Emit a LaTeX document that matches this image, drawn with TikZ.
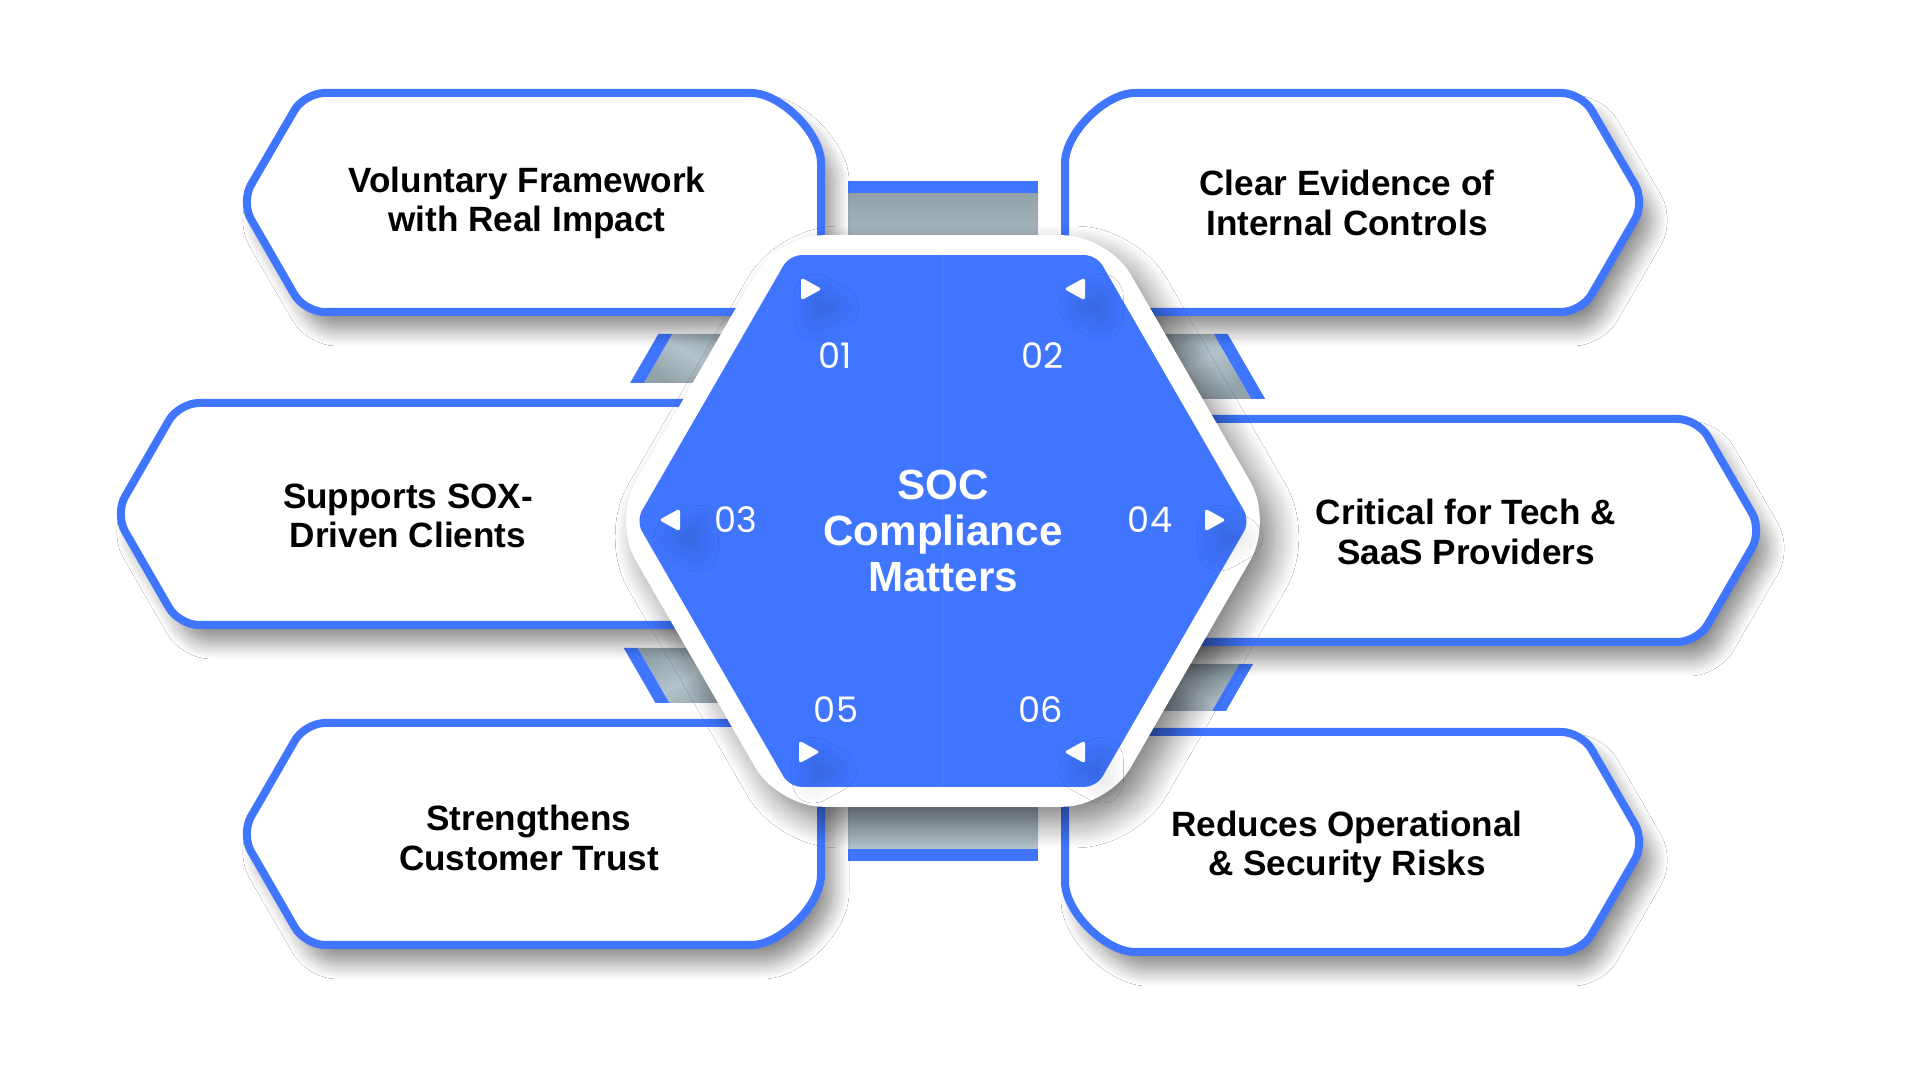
\documentclass[tikz,border=0pt]{standalone}
\usepackage{fontspec}
\setmainfont{Liberation Sans}
\newfontfamily\numfont{Poppins}
\usetikzlibrary{shadows.blur}

\definecolor{socblue}{RGB}{63,117,255}
\definecolor{bandgray}{RGB}{146,162,169}
\definecolor{bandlight}{RGB}{180,195,202}

\begin{document}
\begin{tikzpicture}[
    infobox/.style={draw=socblue, line width=0.08cm, fill=white, rounded corners=0.2cm,
        blur shadow={shadow xshift=0.12cm, shadow yshift=-0.18cm, shadow blur radius=0.16cm,
        shadow blur steps=14, shadow opacity=45}},
    boxtext/.style={font=\bfseries\fontsize{10pt}{11.2pt}\selectfont, align=center},
    title/.style={font=\bfseries\fontsize{12pt}{13pt}\selectfont, text=white, align=center},
    num/.style={font=\numfont\fontsize{10pt}{12pt}\selectfont, text=white},
    marker/.style={fill=white, rounded corners=0.03cm,
        blur shadow={shadow xshift=0.12cm, shadow yshift=-0.14cm, shadow blur radius=0.15cm,
        shadow scale=1.3, shadow blur steps=10, shadow opacity=15}},
    band/.style={top color=bandgray, bottom color=bandlight},
    bandslant/.style={left color=bandgray, right color=bandgray, middle color=bandlight}
]
    \useasboundingbox (0,0) rectangle (19.2,10.8);
    \fill[white] (0,0) rectangle (19.2,10.8);

    % Connector bands behind the boxes
    \shade[band] (8.48,8.87) rectangle (10.38,8.2);
    \fill[socblue] (8.48,8.87) rectangle (10.38,8.99);
    \shade[band] (8.48,3.0) rectangle (10.38,2.31);
    \fill[socblue] (8.48,2.19) rectangle (10.38,2.31);
    \shade[bandslant, shading angle=-30] (6.722,7.46) -- (7.507,7.46) -- (7.224,6.97) -- (6.439,6.97) -- cycle;
    \fill[socblue] (6.584,7.46) -- (6.722,7.46) -- (6.439,6.97) -- (6.301,6.97) -- cycle;
    \shade[bandslant, shading angle=30] (11.353,7.46) -- (12.138,7.46) -- (12.513,6.81) -- (11.728,6.81) -- cycle;
    \fill[socblue] (12.138,7.46) -- (12.276,7.46) -- (12.652,6.81) -- (12.513,6.81) -- cycle;
    \shade[bandslant, shading angle=30] (6.376,4.32) -- (7.161,4.32) -- (7.478,3.77) -- (6.693,3.77) -- cycle;
    \fill[socblue] (6.237,4.32) -- (6.376,4.32) -- (6.693,3.77) -- (6.555,3.77) -- cycle;
    \shade[bandslant, shading angle=-30] (11.607,4.16) -- (12.392,4.16) -- (12.121,3.69) -- (11.335,3.69) -- cycle;
    \fill[socblue] (12.392,4.16) -- (12.530,4.16) -- (12.259,3.69) -- (12.121,3.69) -- cycle;

    % Left boxes
    \draw[infobox] (3.045,7.68) -- (2.41,8.78) -- (3.045,9.87) -- (7.31,9.87)
        arc[start angle=90, end angle=0, radius=0.9] -- (8.21,7.68) -- cycle;
    \draw[infobox] (1.79,4.55) -- (1.15,5.66) -- (1.79,6.77) -- (7.6,6.77) -- (7.6,4.55) -- cycle;
    \draw[infobox] (3.05,1.35) -- (2.41,2.46) -- (3.05,3.57) -- (8.21,3.57) -- (8.21,2.25)
        arc[start angle=0, end angle=-90, radius=0.9] -- cycle;

    % Right boxes
    \draw[infobox] (10.65,7.68) -- (10.65,8.97) arc[start angle=180, end angle=90, radius=0.9]
        -- (15.815,9.87) -- (16.45,8.78) -- (15.815,7.68) -- cycle;
    \draw[infobox] (11.3,4.38) -- (11.3,6.61) -- (16.976,6.61) -- (17.62,5.495) -- (16.976,4.38) -- cycle;
    \draw[infobox] (10.65,3.48) -- (15.815,3.48) -- (16.45,2.38) -- (15.815,1.28) -- (11.55,1.28)
        arc[start angle=270, end angle=180, radius=0.9] -- cycle;

    % Central hexagon
    \fill[white, shift={(9.43,5.59)}, rounded corners=0.45cm,
        blur shadow={shadow xshift=0.14cm, shadow yshift=-0.16cm, shadow blur radius=0.25cm,
        shadow blur steps=14, shadow opacity=50}]
        (0:3.30) -- (60:3.30) -- (120:3.30) -- (180:3.30) -- (240:3.30) -- (300:3.30) -- cycle;
    \fill[socblue, shift={(9.43,5.59)}, rounded corners=0.12cm]
        (0:3.07) -- (60:3.07) -- (120:3.07) -- (180:3.07) -- (240:3.07) -- (300:3.07) -- cycle;
    \foreach \a in {30,90,...,330} {
        \draw[white, opacity=0.03, line width=0.3pt, shift={(9.43,5.59)}] (0,0) -- (\a:2.66);
    }

    % Markers and numbers
    \foreach \x/\y/\s in {8.10/7.91/1, 10.76/7.91/-1, 6.71/5.60/-1, 12.14/5.60/1, 8.08/3.28/1, 10.76/3.28/-1} {
        \fill[marker, shift={(\x,\y)}, xscale=\s] (-0.09,0.115) -- (0.12,0) -- (-0.09,-0.115) -- cycle;
    }
    \foreach \n/\x/\y in {01/8.35/7.24, 02/10.43/7.24, 03/7.36/5.60, 04/11.50/5.60, 05/8.36/3.70, 06/10.41/3.70} {
        \node[num] (n\n) at (\x,\y) {\n};
    }
    \node[title] (title) at (9.43,5.49) {SOC\\Compliance\\Matters};

    % Box labels
    \node[boxtext] (voluntary) at (5.27,8.77) {Voluntary Framework\\with Real Impact};
    \node[boxtext] (evidence) at (13.47,8.77) {Clear Evidence of\\Internal Controls};
    \node[boxtext] (sox) at (4.08,5.64) {Supports SOX-\\Driven Clients};
    \node[boxtext] (critical) at (14.66,5.48) {Critical for Tech \&\\SaaS Providers};
    \node[boxtext] (trust) at (5.29,2.42) {Strengthens\\Customer Trust};
    \node[boxtext] (risks) at (13.47,2.33) {Reduces Operational\\\& Security Risks};
\end{tikzpicture}
\end{document}
